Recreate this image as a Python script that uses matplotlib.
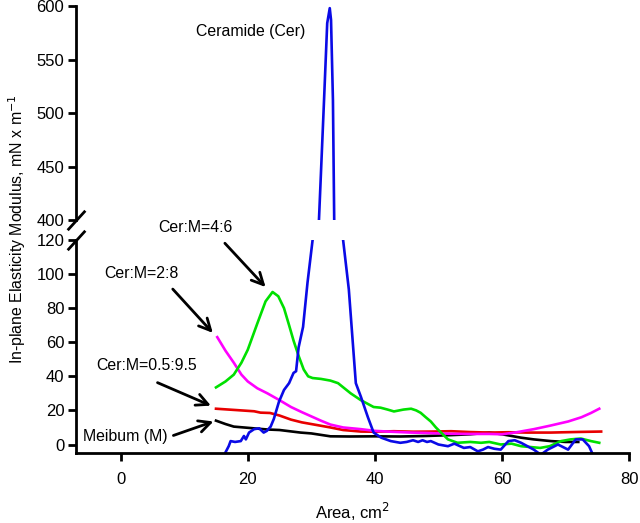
import matplotlib
matplotlib.use("Agg")
import matplotlib.pyplot as plt

plt.rcParams['font.family'] = ['Liberation Sans', 'DejaVu Sans']

# Ceramide (Cer)
cer_x = [16.3, 17.0, 17.3, 18.0, 18.9, 19.4, 19.7, 20.2, 21.0, 21.8, 22.5, 23.0, 23.6, 24.1,
         24.9, 25.7, 26.5, 27.2, 27.6, 28.0, 28.7, 29.4, 30.2, 31.2, 32.0, 32.5, 32.9, 33.1,
         33.4, 33.6, 35.0, 35.9, 36.5, 37.0, 37.8, 38.9, 39.8, 41.0, 42.5, 44.0, 45.0, 46.0,
         46.8, 47.5, 48.2, 48.8, 50.0, 51.5, 52.5, 54.0, 55.0, 56.2, 57.0, 57.8, 58.8, 59.8,
         61.0, 62.0, 63.0, 64.0, 65.0, 66.1, 67.2, 68.8, 70.4, 71.6, 72.7, 73.7, 74.3]
cer_y = [-6, -1, 2, 1.5, 2, 5, 3, 7, 9, 9.5, 7, 8, 10.5, 15,
         25, 32, 36, 42, 43, 57, 69, 95, 120, 400, 512, 584, 598, 587,
         512, 400, 120, 91, 61, 36, 28, 16, 7, 4, 2, 1, 1.5, 2.5,
         1.5, 2.5, 1.5, 2, 0, -1, 0.5, -2, -1.5, -4, -3, -1.5, -2.5, -3,
         2, 2.5, 1, -1, -3, -6, -3, 0, -3, 3, 3, -1, -6]

# Cer:M=4:6
m46_x = [15.0, 16.5, 17.8, 19.0, 20.0, 21.5, 22.8, 23.9, 24.8, 25.7, 26.5, 27.2, 28.0, 28.8,
         29.5, 30.2, 31.5, 33.0, 34.2, 35.2, 36.2, 37.0, 37.8, 38.8, 39.8, 40.9, 42.0, 43.0,
         44.5, 45.7, 46.5, 47.2, 48.0, 48.8, 49.6, 50.4, 51.5, 53.0, 55.0, 56.7, 58.0, 59.8,
         61.5, 63.0, 64.5, 66.0, 67.5, 69.3, 70.8, 72.4, 74.0, 75.3]
m46_y = [33.5, 37, 41, 48, 55.6, 71, 84, 89.5, 87, 80, 70, 61, 52, 44,
         40, 39, 38.5, 37.5, 36, 33, 30, 28, 26, 24, 22, 21.6, 20.5, 19.4,
         20.5, 21, 20, 18.6, 16, 13.5, 10, 7, 3, 1, 1.5, 1, 1.5, 0,
         0.5, -1, -1.5, -2, -1, 2, 3, 3.5, 2, 1]

# Cer:M=2:8
m28_x = [15.2, 16.5, 17.8, 19.0, 20.0, 21.5, 23.1, 25.0, 26.8, 28.5, 30.0, 31.5, 33.0, 35.0,
         37.8, 40.0, 42.5, 45.7, 48.0, 50.0, 52.0, 55.0, 58.0, 60.0, 62.0, 65.0, 67.5, 70.4,
         72.5, 74.0, 75.3]
m28_y = [63, 55, 48, 41, 37, 33, 30, 26, 22, 19, 16.5, 14, 11.7, 10,
         9, 8, 7.5, 7, 6.8, 6.5, 6.3, 6.2, 6.2, 6, 7, 9, 11, 13.5,
         16, 18.5, 21]

# Cer:M=0.5:9.5
m05_x = [15, 17, 19, 21, 22, 23.5, 25, 26.8, 28.5, 30, 33, 35, 37.8, 40, 43, 46, 49, 52, 55,
         58, 61, 64, 67.7, 70, 72.5, 75.6]
m05_y = [21, 20.5, 20, 19.5, 18.7, 18.5, 17, 14.6, 13, 12, 10, 8.5, 7.6, 7.5, 7.8, 7.5, 7.6,
         7.8, 7.3, 7.0, 7.2, 7, 7, 7.2, 7.4, 7.6]

# Meibum (M)
mei_x = [15, 16.5, 17.8, 20, 23.1, 25, 28.3, 30, 33, 36, 40, 44, 48, 52, 55, 58, 60, 63, 65,
         67.7, 70, 72]
mei_y = [14, 12, 10.5, 9.8, 8.8, 8.5, 7, 6.5, 4.8, 4.7, 4.8, 4.7, 5, 5.5, 6, 7, 6, 4, 3,
         2, 1.5, 1.5]

series = [
    (mei_x, mei_y, 'black'),
    (m05_x, m05_y, '#e80000'),
    (m28_x, m28_y, '#ff00ff'),
    (m46_x, m46_y, '#00e000'),
    (cer_x, cer_y, '#0a0ae6'),
]

fig = plt.figure(figsize=(6.4, 5.23), dpi=100)
ax_top = fig.add_axes([0.119, 0.5793, 0.864, 0.4092])
ax = fig.add_axes([0.119, 0.1338, 0.864, 0.4073])

for a in (ax_top, ax):
    for xs, ys, c in series:
        a.plot(xs, ys, color=c, lw=1.9)
    a.set_xlim(-7, 80)
    for s in ('top', 'right'):
        a.spines[s].set_visible(False)
    a.spines['left'].set_linewidth(2)
    a.spines['bottom'].set_linewidth(2)
    a.tick_params(axis='y', direction='out', length=5.5, width=2, labelsize=12, pad=3)
    a.tick_params(axis='x', direction='out', length=5.5, width=2, labelsize=12, pad=8)

ax_top.set_ylim(400, 600)
ax_top.set_yticks([400, 450, 500, 550, 600])
ax_top.spines['bottom'].set_visible(False)
ax_top.set_xticks([])

ax.set_ylim(-5, 120)
ax.set_yticks([0, 20, 40, 60, 80, 100, 120])
ax.set_xticks([0, 20, 40, 60, 80])

# break marks
brk = dict(marker=[(-1, -1.1), (1, 1.1)], markersize=14, linestyle='none',
           color='k', mec='k', mew=2, clip_on=False)
ax_top.plot([0], [0], transform=ax_top.transAxes, **brk)
ax.plot([0], [1], transform=ax.transAxes, **brk)

ax_top.text(11.9, 576, 'Ceramide (Cer)', fontsize=11.4, ha='left', va='center')

labels = [
    ('Cer:M=4:6', (11.8, 127.5), (16.4, 118.1), (22.8, 92.4)),
    ('Cer:M=2:8', (3.3, 100.6), (8.2, 91.2), (14.5, 65.5)),
    ('Cer:M=0.5:9.5', (4.1, 46.2), (5.8, 36.3), (14.2, 22.8)),
    ('Meibum (M)', (0.8, 4.7), (8.3, 5.3), (14.6, 13.5)),
]
for txt, pos, start, end in labels:
    ax.text(pos[0], pos[1], txt, fontsize=11.4, ha='center', va='center')
    ax.annotate('', xy=end, xytext=start, annotation_clip=False,
                arrowprops=dict(arrowstyle='->,head_length=0.6,head_width=0.3',
                                lw=2, color='k', mutation_scale=14,
                                shrinkA=0, shrinkB=0))

fig.text(0.027, 0.561, 'In-plane Elasticity Modulus, mN x m$^{-1}$', rotation=90,
         fontsize=11.4, ha='center', va='center')
fig.text(0.55, 0.021, 'Area, cm$^2$', fontsize=12, ha='center', va='center')

fig.savefig('out.png', dpi=100)
